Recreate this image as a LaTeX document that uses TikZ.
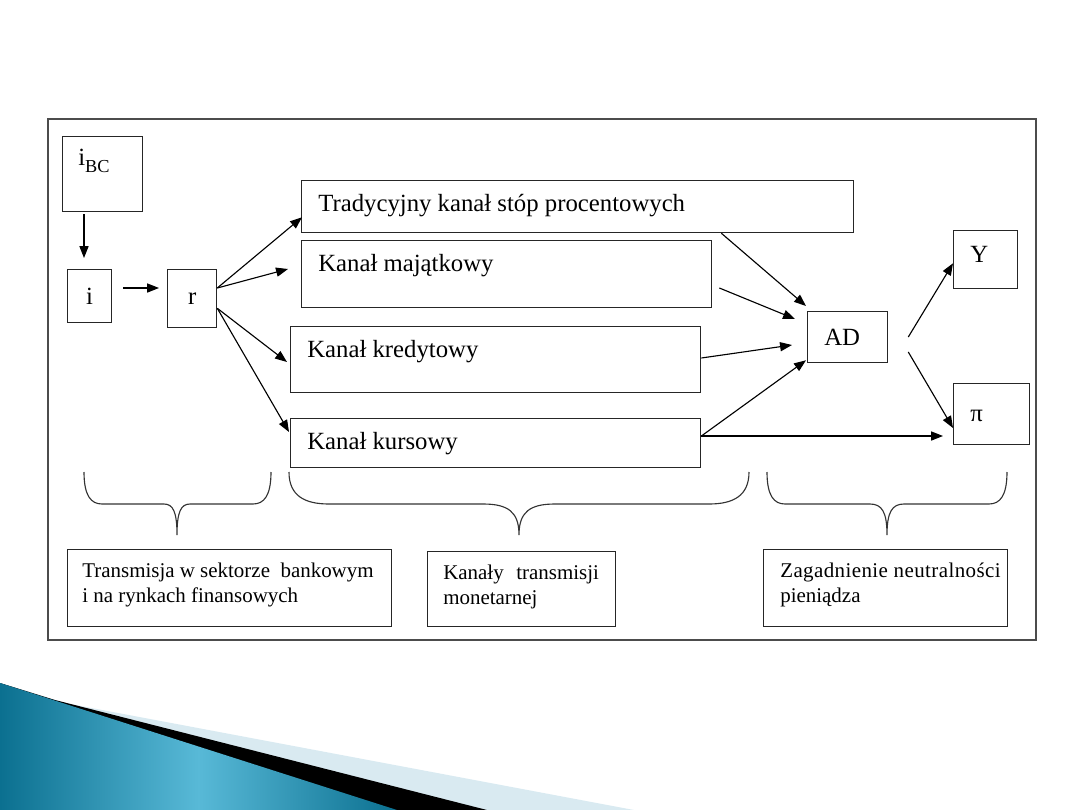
\documentclass[tikz,border=0pt]{standalone}
\usepackage{fontspec}
\setmainfont{Liberation Serif}
\usepackage{tikz}
\usetikzlibrary{arrows.meta}
\definecolor{swteal}{HTML}{0B7090}
\definecolor{swlight}{HTML}{58B9D7}
\definecolor{swpale}{HTML}{D9EAF1}
\definecolor{framegray}{gray}{0.3}

\begin{document}
\begin{tikzpicture}[
        x=0.025cm, y=-0.025cm,
        font=\fontsize{17.6}{21}\selectfont,
        box/.style={draw=black!85, line width=0.9pt, anchor=north west, inner sep=0pt},
        lbl/.style={anchor=base west, inner sep=0pt},
        note/.style={anchor=north west, inner sep=0pt, align=left,
                     font=\fontsize{14.9}{17.6}\selectfont},
        brc/.style={line width=0.8pt, black!80},
        a/.style={-{Triangle[length=8.5pt,width=6.5pt]}, line width=0.8pt}
    ]
        \useasboundingbox (0,0) rectangle (1080,810);
        % slide swoosh
        \fill[swpale] (0,683) -- (65,703) -- (634,810) -- (0,810) -- cycle;
        \fill[black] (0,683) -- (55,700) -- (487,810) -- (0,810) -- cycle;
        \shade[left color=swteal, right color=swteal, middle color=swlight]
            (0,683) -- (397,810) -- (0,810) -- cycle;
        \draw[framegray, line width=1.2pt] (48,119) rectangle (1036,640);

        \node[box, minimum width=2cm, minimum height=1.875cm] (ibc) at (62,136) {};
        \node[box, minimum width=1.1cm, minimum height=1.325cm] (i) at (67,269) {i};
        \node[box, minimum width=1.225cm, minimum height=1.45cm] (r) at (167,269) {r};
        \node[box, minimum width=13.8cm, minimum height=1.3cm] (trad) at (301,180) {};
        \node[box, minimum width=10.25cm, minimum height=1.675cm] (maj) at (301,240) {};
        \node[box, minimum width=10.25cm, minimum height=1.65cm] (kred) at (290,326) {};
        \node[box, minimum width=10.25cm, minimum height=1.225cm] (kurs) at (290,418) {};
        \node[box, minimum width=2cm, minimum height=1.275cm] (ad) at (807,311) {};
        \node[box, minimum width=1.6cm, minimum height=1.45cm] (y) at (953,230) {};
        \node[box, minimum width=1.9cm, minimum height=1.525cm] (pi) at (953,383) {};
        \node[box, minimum width=8.1cm, minimum height=1.925cm] (bank) at (67,549) {};
        \node[box, minimum width=4.7cm, minimum height=1.875cm] (chan) at (427,551) {};
        \node[box, minimum width=6.1cm, minimum height=1.925cm] (neut) at (763,549) {};

        \node[lbl] (ibctxt) at (78,165) {i\raisebox{-5pt}{\fontsize{13}{13}\selectfont BC}};
        \node[lbl] (tradtxt) at (318,211) {Tradycyjny kanał stóp procentowych};
        \node[lbl] (majtxt) at (318,271) {Kanał majątkowy};
        \node[lbl] (kredtxt) at (307,357) {Kanał kredytowy};
        \node[lbl] (kurstxt) at (307,449) {Kanał kursowy};
        \node[lbl] (adtxt) at (824,345) {AD};
        \node[lbl] (ytxt) at (970,262) {Y};
        \node[lbl] (pitxt) at (970,421) {π};
        \node[note] (banktxt) at (82,563) {Transmisja w sektorze\ \ bankowym\\i na rynkach finansowych};
        \node[note] (chantxt) at (443,565) {Kanały\hspace{0.6em}transmisji\\monetarnej};
        \node[note] (neuttxt) at (780,563)
            {{\addfontfeatures{LetterSpace=2.0}Zagadnienie neutralności}\\pieniądza};

        \draw[a] ([shift={(22,2)}]ibc.south west) -- ([shift={(17,-11)}]i.north west);
        \draw[a] ([shift={(11,19)}]i.north east) -- ([shift={(-8,19)}]r.north west);
        \draw[a] ([shift={(0,19)}]r.north east) -- ([shift={(1,-16)}]trad.south west);
        \draw[a] ([shift={(0,19)}]r.north east) -- ([shift={(-13,29)}]maj.north west);
        \draw[a] ([shift={(0,-20)}]r.south east) -- ([shift={(-3,36)}]kred.north west);
        \draw[a] ([shift={(0,-20)}]r.south east) -- ([shift={(-1,14)}]kurs.north west);
        \draw[a] ([shift={(-133,0)}]trad.south east) -- ([shift={(-1,-5)}]ad.north west);
        \draw[a] ([shift={(7,48)}]maj.north east) -- ([shift={(-12,8)}]ad.north west);
        \draw[a] ([shift={(0,32)}]kred.north east) -- ([shift={(-15,34)}]ad.north west);
        \draw[a] ([shift={(0,18)}]kurs.north east) -- ([shift={(-1,-3)}]ad.south west);
        \draw[a] ([shift={(0,18)}]kurs.north east) -- ([shift={(-10,53)}]pi.north west);
        \draw[a] ([shift={(20,26)}]ad.north east) -- ([shift={(0,-26)}]y.south west);
        \draw[a] ([shift={(20,41)}]ad.north east) -- ([shift={(0,45)}]pi.north west);

        \foreach \lft/\tip/\rgt/\rad/\trd in {84/177/271/18/13, 289/519/749/40/36, 767/887/1007/18/17}
            \draw[brc] (\lft,472) .. controls (\lft,496) and (\lft+0.4*\rad,504) .. (\lft+\rad,504)
                -- (\tip-\trd,504) .. controls (\tip-0.3*\trd,504) and (\tip,512) .. (\tip,535)
                .. controls (\tip,512) and (\tip+0.3*\trd,504) .. (\tip+\trd,504)
                -- (\rgt-\rad,504) .. controls (\rgt-0.4*\rad,504) and (\rgt,496) .. (\rgt,472);
    \end{tikzpicture}
\end{document}
